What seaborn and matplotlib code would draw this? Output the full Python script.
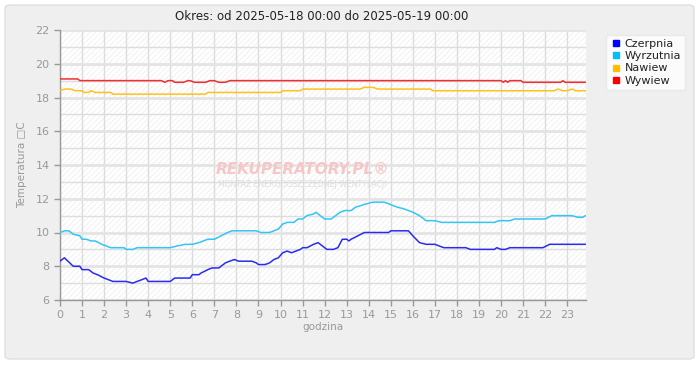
import matplotlib
matplotlib.use("Agg")
import matplotlib.pyplot as plt
from matplotlib.patches import FancyBboxPatch, Rectangle
from matplotlib.lines import Line2D
from matplotlib.ticker import MultipleLocator
import pandas as pd
import seaborn as sns

# --- data (hour of day, temperature) ---
czerpnia_h = [0, 0.2, 0.6, 0.9, 1.0, 1.3, 1.5, 1.7, 2.0, 2.2,
              2.4, 3.0, 3.3, 3.5, 3.7, 3.9, 4.0, 5.0, 5.2, 5.9,
              6.0, 6.3, 6.4, 6.7, 6.9, 7.2, 7.3, 7.5, 7.7, 7.9,
              8.1, 8.7, 8.9, 9.0, 9.3, 9.5, 9.7, 9.9, 10.1, 10.3,
              10.5, 10.7, 10.9, 11.0, 11.2, 11.5, 11.7, 11.9, 12.1, 12.4,
              12.6, 12.8, 13.0, 13.1, 13.2, 13.5, 13.8, 14.9, 15.0, 15.8,
              16.0, 16.3, 16.6, 17.0, 17.4, 18.4, 18.6, 19.7, 19.8, 20.0,
              20.2, 20.4, 21.9, 22.2, 23.83]
czerpnia_t = [8.3, 8.5, 8.0, 8.0, 7.8, 7.8, 7.6, 7.5, 7.3, 7.2,
              7.1, 7.1, 7.0, 7.1, 7.2, 7.3, 7.1, 7.1, 7.3, 7.3,
              7.5, 7.5, 7.6, 7.8, 7.9, 7.9, 8.0, 8.2, 8.3, 8.4,
              8.3, 8.3, 8.2, 8.1, 8.1, 8.2, 8.4, 8.5, 8.8, 8.9,
              8.8, 8.9, 9.0, 9.1, 9.1, 9.3, 9.4, 9.2, 9.0, 9.0,
              9.1, 9.6, 9.6, 9.5, 9.6, 9.8, 10.0, 10.0, 10.1, 10.1,
              9.8, 9.4, 9.3, 9.3, 9.1, 9.1, 9.0, 9.0, 9.1, 9.0,
              9.0, 9.1, 9.1, 9.3, 9.3]

wyrzutnia_h = [0, 0.2, 0.4, 0.6, 0.9, 1.0, 1.2, 1.4, 1.6, 1.9,
               2.1, 2.3, 2.9, 3.0, 3.3, 3.5, 5.0, 5.3, 5.7, 6.0,
               6.3, 6.5, 6.7, 7.0, 7.3, 7.6, 7.8, 8.9, 9.1, 9.5,
               9.9, 10.1, 10.3, 10.6, 10.8, 11.0, 11.2, 11.5, 11.6, 11.8,
               12.0, 12.3, 12.4, 12.7, 12.9, 13.2, 13.4, 13.9, 14.2, 14.7,
               14.9, 15.3, 15.6, 16.0, 16.3, 16.6, 17.0, 17.3, 19.7, 19.9,
               20.4, 20.6, 22.0, 22.3, 23.2, 23.5, 23.7, 23.83]
wyrzutnia_t = [10.0, 10.1, 10.1, 9.9, 9.8, 9.6, 9.6, 9.5, 9.5, 9.3,
               9.2, 9.1, 9.1, 9.0, 9.0, 9.1, 9.1, 9.2, 9.3, 9.3,
               9.4, 9.5, 9.6, 9.6, 9.8, 10.0, 10.1, 10.1, 10.0, 10.0,
               10.2, 10.5, 10.6, 10.6, 10.8, 10.8, 11.0, 11.1, 11.2, 11.0,
               10.8, 10.8, 10.9, 11.2, 11.3, 11.3, 11.5, 11.7, 11.8, 11.8,
               11.7, 11.5, 11.4, 11.2, 11.0, 10.7, 10.7, 10.6, 10.6, 10.7,
               10.7, 10.8, 10.8, 11.0, 11.0, 10.9, 10.9, 11.0]

nawiew_h = [0, 0.2, 0.5, 0.7, 1.0, 1.1, 1.3, 1.4, 1.6, 2.3,
            2.4, 6.6, 6.7, 10.0, 10.1, 10.9, 11.0, 13.6, 13.8, 14.2,
            14.4, 16.8, 16.9, 22.4, 22.6, 22.8, 23.0, 23.2, 23.4, 23.83]
nawiew_t = [18.4, 18.5, 18.5, 18.4, 18.4, 18.3, 18.3, 18.4, 18.3, 18.3,
            18.2, 18.2, 18.3, 18.3, 18.4, 18.4, 18.5, 18.5, 18.6, 18.6,
            18.5, 18.5, 18.4, 18.4, 18.5, 18.4, 18.4, 18.5, 18.4, 18.4]

wywiew_h = [0, 0.8, 0.9, 4.6, 4.75, 4.9, 5.1, 5.2, 5.6, 5.8,
            5.9, 6.1, 6.6, 6.8, 7.0, 7.2, 7.5, 7.7, 20.0, 20.1,
            20.2, 20.3, 20.4, 20.9, 21.0, 22.7, 22.8, 22.9, 23.83]
wywiew_t = [19.1, 19.1, 19.0, 19.0, 18.9, 19.0, 19.0, 18.9, 18.9, 19.0,
            19.0, 18.9, 18.9, 19.0, 19.0, 18.9, 18.9, 19.0, 19.0, 18.9,
            19.0, 18.9, 19.0, 19.0, 18.9, 18.9, 19.0, 18.9, 18.9]

series_names = ["Czerpnia", "Wyrzutnia", "Nawiew", "Wywiew"]
line_colors = ["#2b2bf0", "#33c6f5", "#ffc21a", "#f03030"]
legend_colors = ["#0000ff", "#00bfff", "#ffbf00", "#ff0000"]

frames = []
for name, h, t in zip(series_names,
                      [czerpnia_h, wyrzutnia_h, nawiew_h, wywiew_h],
                      [czerpnia_t, wyrzutnia_t, nawiew_t, wywiew_t]):
    frames.append(pd.DataFrame({"godzina": h, "temp": t, "seria": name}))
df = pd.concat(frames, ignore_index=True)

sns.set_style("white")
plt.rcParams['font.family'] = ['DejaVu Sans']
plt.rcParams['hatch.linewidth'] = 0.6

fig = plt.figure(figsize=(7, 3.8), dpi=100)
fig.patch.set_facecolor("white")

# rounded panel behind the chart
panel = FancyBboxPatch((5 / 700, 21 / 380), 689 / 700, 354 / 380,
                       boxstyle="round,pad=0,rounding_size=0.008",
                       transform=fig.transFigure, facecolor="#efefef",
                       edgecolor="#dedede", lw=1, zorder=-10)
fig.patches.append(panel)

ax = fig.add_axes([60 / 700, 80 / 380, 526 / 700, 270 / 380])
ax.set_facecolor("white")
ax.add_patch(Rectangle((0, 0), 1, 1, transform=ax.transAxes, fill=False,
                       hatch="//////", edgecolor="#efefef", lw=0, zorder=0))

sns.lineplot(data=df, x="godzina", y="temp", hue="seria",
             palette=dict(zip(series_names, line_colors)),
             linewidth=1.1, legend=False, ax=ax, zorder=3, sort=False,
             estimator=None)

ax.set_xlim(0, 23.85)
ax.set_ylim(6, 22)
ax.xaxis.set_major_locator(MultipleLocator(1))
ax.yaxis.set_major_locator(MultipleLocator(2))
ax.yaxis.set_minor_locator(MultipleLocator(1))
ax.grid(True, which="major", axis="x", color="#dcdcdc", lw=1, zorder=1)
ax.grid(True, which="major", axis="y", color="#e4e4e4", lw=2, zorder=1)
ax.grid(True, which="minor", axis="y", color="#dddddd", lw=1, zorder=1)
ax.set_axisbelow(True)

for side in ["top", "right"]:
    ax.spines[side].set_visible(False)
for side in ["left", "bottom"]:
    ax.spines[side].set_color("#999999")
    ax.spines[side].set_linewidth(1)

ax.tick_params(axis="both", which="major", colors="#999999", labelsize=8,
               length=4, width=1, direction="out", left=True, bottom=True)
ax.tick_params(axis="y", which="minor", length=0)
ax.tick_params(axis="both", labelcolor="#999999")

ax.set_xlabel("godzina", color="#999999", fontsize=7.5, labelpad=1)
ax.set_ylabel("Temperatura \u25a1C", color="#999999", fontsize=7.5, labelpad=6)

fig.text(322 / 700, 1 - 17 / 380,
         "Okres: od 2025-05-18 00:00 do 2025-05-19 00:00",
         ha="center", va="center", fontsize=8.5, color="#222222")

# watermark
ax.text(0.46, 0.485, "REKUPERATORY.PL\u00ae", transform=ax.transAxes,
        ha="center", va="center", fontsize=11, fontweight="bold",
        fontstyle="italic", color="#f7c6c6", zorder=2)
ax.text(0.46, 0.43, "MONTAŻ ENERGOOSZCZĘDNEJ WENTYLACJI",
        transform=ax.transAxes, ha="center", va="center", fontsize=5.6,
        color="#dedede", zorder=2)

# legend
handles = [Line2D([], [], marker="s", linestyle="none", markersize=5,
                  markerfacecolor=c, markeredgecolor=c) for c in legend_colors]
leg = fig.legend(handles, series_names, loc="upper left",
                 bbox_to_anchor=(600 / 700, 1 - 29 / 380), fontsize=8,
                 frameon=True, handletextpad=0.3, labelspacing=0.2,
                 borderpad=0.4, handlelength=1.0, fancybox=True)
leg.get_frame().set_facecolor("white")
leg.get_frame().set_edgecolor("#e6e6e6")
for txt in leg.get_texts():
    txt.set_color("#222222")

fig.savefig("out.png", dpi=100, facecolor=fig.get_facecolor())
